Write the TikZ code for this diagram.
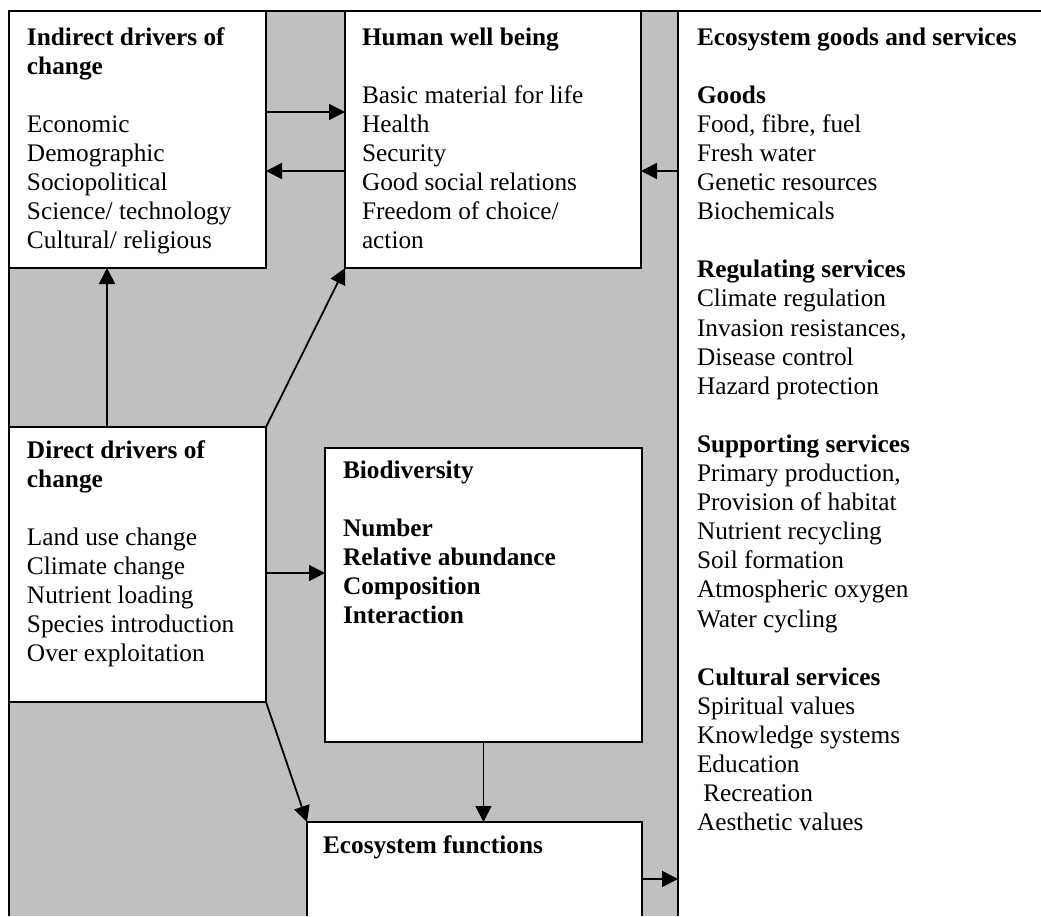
\documentclass[tikz,border=0pt]{standalone}
\usepackage{fontspec}
\setmainfont{Liberation Serif}
\usetikzlibrary{arrows.meta}
\definecolor{bggray}{RGB}{192,192,192}
\begin{document}
\begin{tikzpicture}[x=1pt,y=-1pt,
 box/.style={draw, line width=2pt, fill=white, inner sep=0pt, outer sep=0pt, anchor=north west},
 txt/.style={inner sep=0pt, outer sep=0pt, anchor=base west, font=\fontsize{25.3}{29.1}\selectfont},
 arr/.style={-{Triangle[length=16pt,width=16pt]}, line width=1.8pt},
 border/.style={line width=2pt}]
\useasboundingbox (0,0) rectangle (1041,916);
\fill[bggray] (9,11) rectangle (678,916);
\node[box, draw=none, minimum width=363pt, minimum height=905pt] (goods) at (678,11) {};
\draw[border] (9,916) -- (9,11) -- (1041,11);
\draw[border] (goods.south west) -- (goods.north west);

\node[box, minimum width=257pt, minimum height=257pt] (ind) at (9,11) {};
\node[box, minimum width=296pt, minimum height=257pt] (hwb) at (345,11) {};
\node[box, minimum width=257pt, minimum height=275pt] (dir) at (9,427) {};
\node[box, minimum width=317pt, minimum height=294pt] (bio) at (325,448) {};
\node[box, draw=none, minimum width=335pt, minimum height=94pt] (ef) at (307,822) {};
\draw[border] (ef.south west) -- (ef.north west) -- (ef.north east) -- (ef.south east);

% arrows
\draw[arr] (ind.east |- 0,112) -- (hwb.west |- 0,112);
\draw[arr] (hwb.west |- 0,171) -- (ind.east |- 0,171);
\draw[arr] (goods.west |- 0,171) -- (hwb.east |- 0,171);
\draw[arr] (dir.north -| 107,0) -- (ind.south -| 107,0);
\draw[arr] (dir.north east) -- (hwb.south west);
\draw[arr] (dir.east |- 0,573) -- (bio.west |- 0,573);
\draw[arr] (dir.south east) -- (ef.north west);
\draw[arr] (bio.south) -- (ef.north -| bio.south);
\draw[arr] (ef.east |- 0,879) -- (goods.west |- 0,879);

% texts
\node[txt] (indtxt) at (27,45) {\begin{tabular}[t]{@{}l@{}}\textbf{Indirect drivers of}\\\textbf{change}\\ \\Economic\\Demographic\\Sociopolitical\\Science/ technology\\Cultural/ religious\end{tabular}};
\node[txt] (hwbtxt) at (362,45) {\begin{tabular}[t]{@{}l@{}}\textbf{Human well being}\\ \\Basic material for life\\Health\\Security\\Good social relations\\Freedom of choice/\\action\end{tabular}};
\node[txt] (goodstxt) at (697,45) {\begin{tabular}[t]{@{}l@{}}\textbf{Ecosystem goods and services}\\ \\\textbf{Goods}\\Food, fibre, fuel\\Fresh water\\Genetic resources\\Biochemicals\\ \\\textbf{Regulating services}\\Climate regulation\\Invasion resistances,\\Disease control\\Hazard protection\\ \\\textbf{Supporting services}\\Primary production,\\Provision of habitat\\Nutrient recycling\\Soil formation\\Atmospheric oxygen\\Water cycling\\ \\\textbf{Cultural services}\\Spiritual values\\Knowledge systems\\Education\\\ Recreation\\Aesthetic values\end{tabular}};
\node[txt] (dirtxt) at (27,458) {\begin{tabular}[t]{@{}l@{}}\textbf{Direct drivers of}\\\textbf{change}\\ \\Land use change\\Climate change\\Nutrient loading\\Species introduction\\Over exploitation\end{tabular}};
\node[txt] (biotxt) at (343,478) {\begin{tabular}[t]{@{}l@{}}\textbf{Biodiversity}\\ \\\textbf{Number}\\\textbf{Relative abundance}\\\textbf{Composition}\\\textbf{Interaction}\end{tabular}};
\node[txt] (eftxt) at (323,853) {\textbf{Ecosystem functions}};
\end{tikzpicture}
\end{document}
